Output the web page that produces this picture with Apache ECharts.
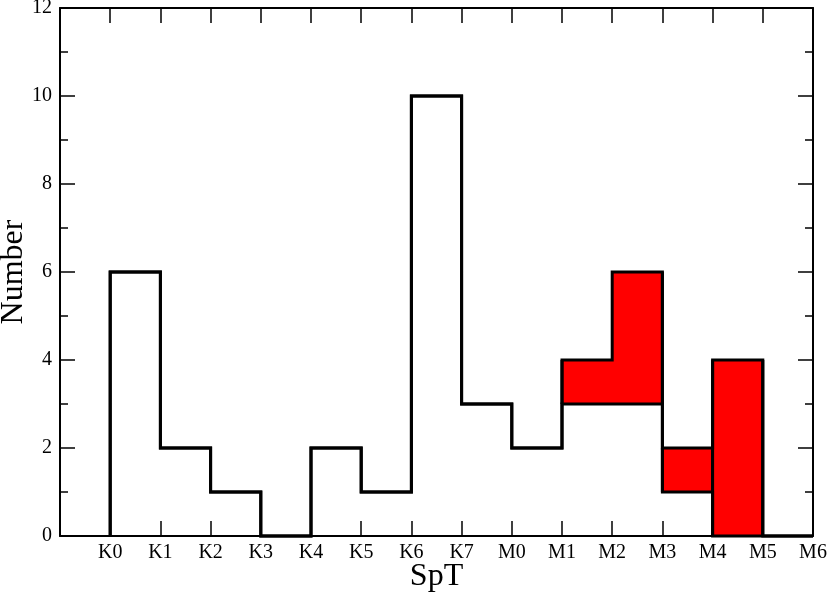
<!DOCTYPE html>
<html>
<head>
<meta charset="utf-8">
<script src="https://cdn.jsdelivr.net/npm/echarts@6/dist/echarts.min.js"></script>
<style>html,body{margin:0;padding:0;background:#fff}#c{width:830px;height:596px}</style>
</head>
<body>
<div id="c"></div>
<script>
// Spectral type categories (tick labels at bin edges)
const categories = ['K0','K1','K2','K3','K4','K5','K6','K7','M0','M1','M2','M3','M4','M5','M6'];
// Bin counts (bin i spans categories[i]..categories[i+1])
const totalCounts = [6, 2, 1, 0, 2, 1, 10, 3, 2, 4, 6, 2, 4, 0];
const nonRedCounts = [6, 2, 1, 0, 2, 1, 10, 3, 2, 3, 3, 1, 0, 0];
// red block grouping (bins sharing an id form one outlined block; 0 = none)
const redGroup = [0, 0, 0, 0, 0, 0, 0, 0, 0, 1, 1, 2, 3, 0];
const yTicks = [0, 2, 4, 6, 8, 10, 12];

const FONT = 'Liberation Serif';

function stepData(vals) {
  const pts = [[0, 0]];
  for (let i = 0; i < vals.length; i++) pts.push([i, vals[i]]);
  pts.push([vals.length, 0]);
  return pts;
}

const redData = [];
for (let i = 0; i < totalCounts.length; i++) {
  if (totalCounts[i] > nonRedCounts[i]) redData.push([i, nonRedCounts[i], totalCounts[i]]);
}

const chart = echarts.init(document.getElementById('c'), null, {renderer: 'canvas'});

const axisCommon = {
  axisLine: {show: true, onZero: false, lineStyle: {color: '#000', width: 2}},
  splitLine: {show: false}
};

chart.setOption({
  animation: false,
  backgroundColor: '#fff',
  grid: {left: 60, right: 17, top: 8, bottom: 60, containLabel: false, outerBoundsMode: 'none'},
  xAxis: [
    Object.assign({
      type: 'value', min: -1, max: categories.length - 1, interval: 1, position: 'bottom',
      axisTick: {show: true, inside: true, length: 15, lineStyle: {color: '#000', width: 1.5}},
      axisLabel: {
        show: true, margin: 7, color: '#000', fontFamily: FONT, fontSize: 20,
        showMinLabel: true, showMaxLabel: true, hideOverlap: false,
        formatter: v => (v >= 0 && v < categories.length) ? categories[Math.round(v)] : ''
      },
      name: 'SpT', nameLocation: 'middle', nameGap: 25, nameMoveOverlap: false,
      nameTextStyle: {color: '#000', fontFamily: FONT, fontSize: 32}
    }, axisCommon),
    Object.assign({
      type: 'value', min: -1, max: categories.length - 1, interval: 1, position: 'top',
      axisTick: {show: true, inside: true, length: 15, lineStyle: {color: '#000', width: 1.5}},
      axisLabel: {show: false}
    }, axisCommon)
  ],
  yAxis: [
    Object.assign({
      type: 'value', min: yTicks[0], max: yTicks[yTicks.length - 1], interval: 2, position: 'left',
      axisTick: {show: true, inside: true, length: 15, lineStyle: {color: '#000', width: 1.5}},
      minorTick: {show: true, splitNumber: 2, length: 8, lineStyle: {color: '#000', width: 1.5}},
      axisLabel: {show: true, margin: 8, color: '#000', fontFamily: FONT, fontSize: 20},
      name: 'Number', nameLocation: 'middle', nameGap: 30, nameMoveOverlap: false,
      nameTextStyle: {color: '#000', fontFamily: FONT, fontSize: 32}
    }, axisCommon),
    Object.assign({
      type: 'value', min: yTicks[0], max: yTicks[yTicks.length - 1], interval: 2, position: 'right',
      axisTick: {show: true, inside: true, length: 15, lineStyle: {color: '#000', width: 1.5}},
      minorTick: {show: true, splitNumber: 2, length: 8, lineStyle: {color: '#000', width: 1.5}},
      axisLabel: {show: false}
    }, axisCommon)
  ],
  series: [
    {
      type: 'custom', xAxisIndex: 0, yAxisIndex: 0, z: 1,
      data: redData,
      renderItem: function (params, api) {
        const i = api.value(0), lo = api.value(1), hi = api.value(2);
        const a = api.coord([i, lo]);
        const b = api.coord([i + 1, hi]);
        const children = [{
          type: 'rect',
          shape: {x: a[0] - 0.5, y: b[1], width: b[0] - a[0] + 1, height: a[1] - b[1]},
          style: {fill: '#ff0000', stroke: null}
        }];
        const ls = {stroke: '#000', lineWidth: 3};
        if (redGroup[i - 1] !== redGroup[i]) {
          children.push({type: 'line', shape: {x1: a[0], y1: a[1], x2: a[0], y2: b[1]}, style: ls});
        }
        if (redGroup[i + 1] !== redGroup[i]) {
          children.push({type: 'line', shape: {x1: b[0], y1: a[1], x2: b[0], y2: b[1]}, style: ls});
        }
        return {type: 'group', children: children};
      }
    },
    {
      type: 'line', xAxisIndex: 0, yAxisIndex: 0, z: 3, step: 'end',
      data: stepData(nonRedCounts), showSymbol: false, symbol: 'none',
      lineStyle: {color: '#000', width: 3, join: 'miter'}, clip: false
    },
    {
      type: 'line', xAxisIndex: 0, yAxisIndex: 0, z: 3, step: 'end',
      data: stepData(totalCounts), showSymbol: false, symbol: 'none',
      lineStyle: {color: '#000', width: 3, join: 'miter'}, clip: false
    }
  ]
});
</script>
</body>
</html>
